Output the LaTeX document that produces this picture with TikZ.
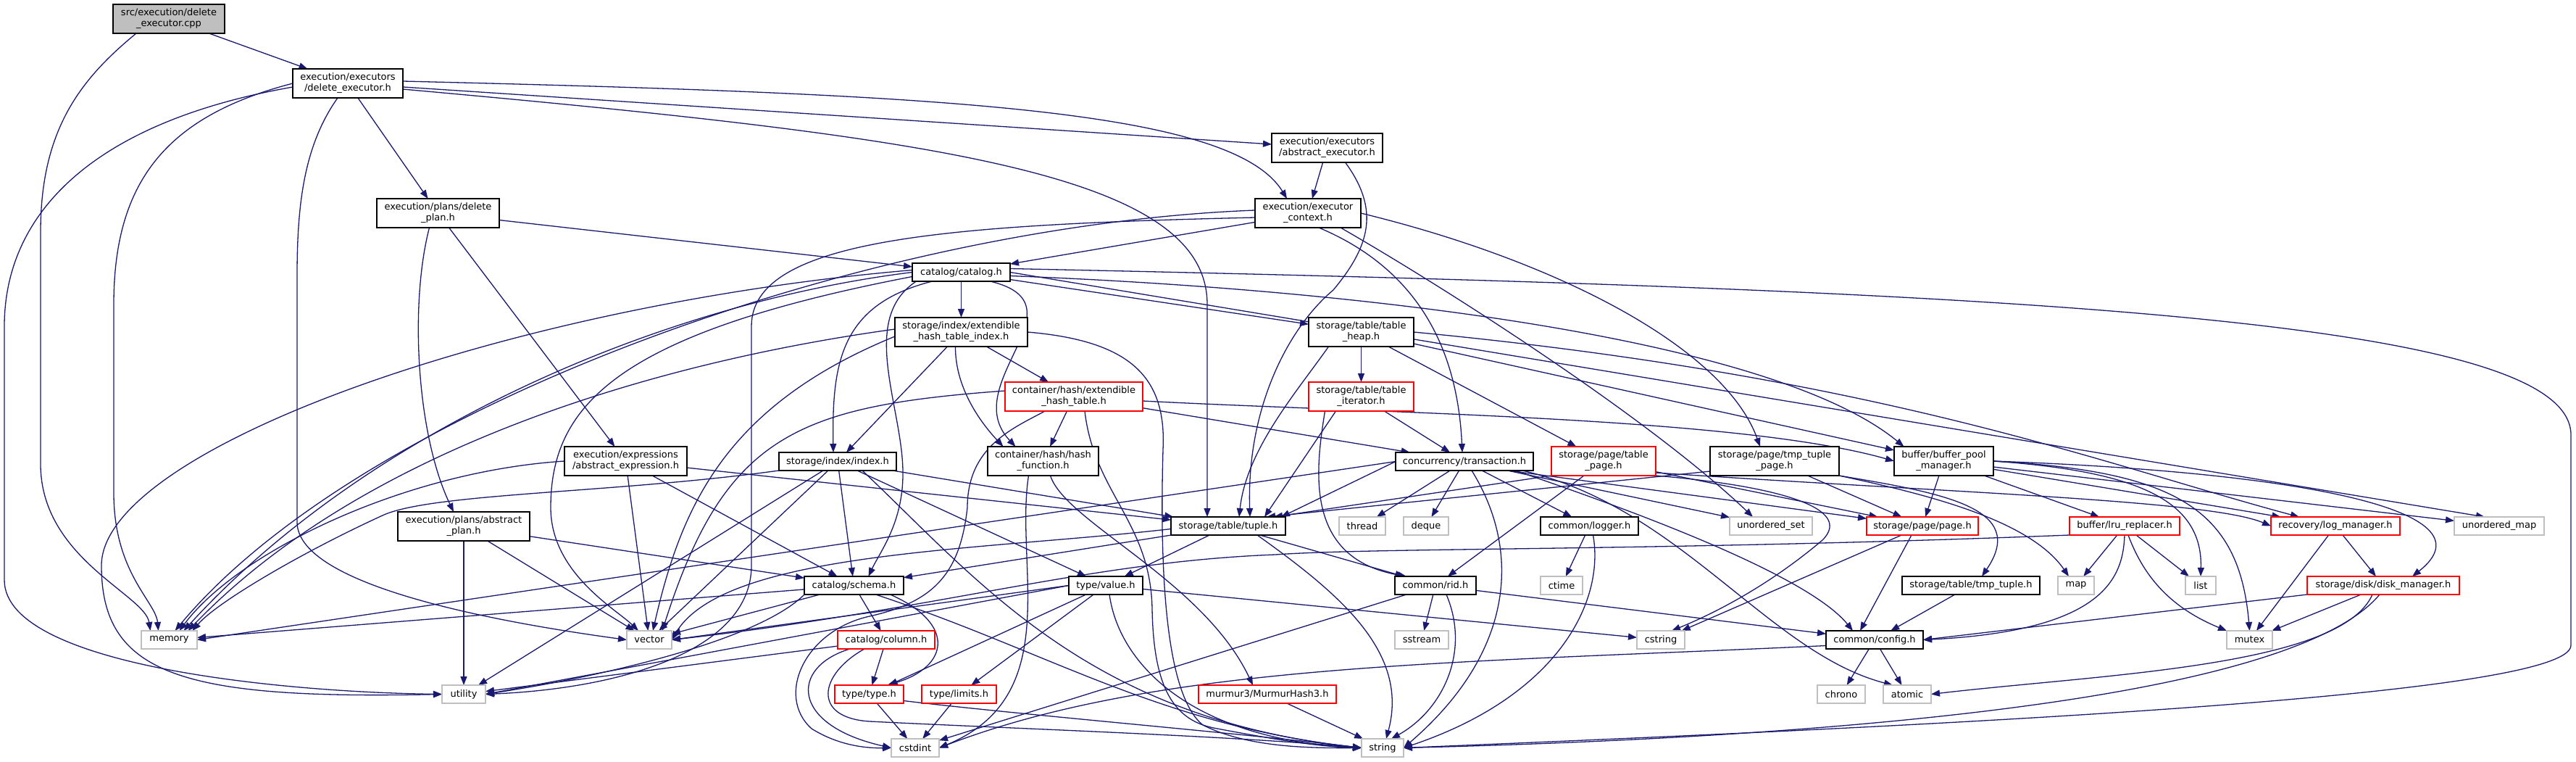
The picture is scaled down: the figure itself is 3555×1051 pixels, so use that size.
\documentclass[tikz,border=0pt]{standalone}
\usepackage{fontspec}
\setmainfont{DejaVu Sans}
\usetikzlibrary{arrows.meta}
\definecolor{ecol}{HTML}{191970}
\definecolor{grey75}{HTML}{BFBFBF}
\newcommand\nodefont{\fontsize{13pt}{15pt}\selectfont}
\newcommand\mknode[7]{\node[#1,minimum width={#4-#2},minimum height={#5-#3}] (#6) at ({(#2+#4)/2},{(#3+#5)/2}) {#7};}
\pgfdeclarelayer{bg}
\pgfsetlayers{bg,main}
\begin{document}
\begin{tikzpicture}[x=1pt,y=-1pt,
  conn/.style={draw=ecol, line width=1.3pt, -{Triangle[length=12pt,width=9pt]}},
  hbox/.style={draw=black, fill=white, line width=1.3pt, inner sep=0pt, outer sep=0pt, align=center, font=\nodefont},
  redbox/.style={hbox, draw=red},
  sysbox/.style={hbox, draw=grey75},
  srcbox/.style={hbox, fill=grey75}]
\path[use as bounding box] (0,0) rectangle (3555,1051);
% nodes
\mknode{srcbox}{156}{6}{310}{46}{src}{src/execution/delete\\\_executor.cpp}
\mknode{hbox}{404}{95}{556}{135}{dexec}{execution/executors\\/delete\_executor.h}
\mknode{hbox}{520}{274}{689}{314}{dplan}{execution/plans/delete\\\_plan.h}
\mknode{hbox}{1755}{184}{1908}{224}{aexec}{execution/executors\\/abstract\_executor.h}
\mknode{hbox}{1732}{274}{1878}{314}{ectx}{execution/executor\\\_context.h}
\mknode{hbox}{1259}{363}{1394}{388}{catalog}{catalog/catalog.h}
\mknode{hbox}{1235}{438}{1418}{478}{ehti}{storage/index/extendible\\\_hash\_table\_index.h}
\mknode{redbox}{1387}{527}{1577}{567}{eht}{container/hash/extendible\\\_hash\_table.h}
\mknode{hbox}{1075}{624}{1237}{649}{index}{storage/index/index.h}
\mknode{hbox}{1363}{616}{1516}{656}{hashfn}{container/hash/hash\\\_function.h}
\mknode{hbox}{779}{616}{948}{656}{aexpr}{execution/expressions\\/abstract\_expression.h}
\mknode{hbox}{1806}{438}{1951}{478}{theap}{storage/table/table\\\_heap.h}
\mknode{redbox}{1806}{527}{1951}{567}{titer}{storage/table/table\\\_iterator.h}
\mknode{hbox}{1926}{624}{2116}{649}{txn}{concurrency/transaction.h}
\mknode{redbox}{2141}{616}{2285}{656}{tpage}{storage/page/table\\\_page.h}
\mknode{hbox}{2360}{616}{2538}{656}{ttpage}{storage/page/tmp\_tuple\\\_page.h}
\mknode{hbox}{2614}{616}{2751}{656}{bpm}{buffer/buffer\_pool\\\_manager.h}
\mknode{hbox}{549}{706}{731}{746}{aplan}{execution/plans/abstract\\\_plan.h}
\mknode{sysbox}{195}{870}{272}{895}{memory}{memory}
\mknode{sysbox}{610}{945}{670}{970}{utility}{utility}
\mknode{sysbox}{865}{870}{927}{895}{vector}{vector}
\mknode{hbox}{1616}{713}{1774}{738}{tuple}{storage/table/tuple.h}
\mknode{hbox}{1110}{795}{1247}{820}{schema}{catalog/schema.h}
\mknode{hbox}{1475}{795}{1577}{820}{value}{type/value.h}
\mknode{redbox}{1156}{870}{1290}{895}{column}{catalog/column.h}
\mknode{redbox}{1152}{945}{1247}{970}{type}{type/type.h}
\mknode{redbox}{1272}{945}{1375}{970}{limits}{type/limits.h}
\mknode{redbox}{1654}{945}{1844}{970}{murmur}{murmur3/MurmurHash3.h}
\mknode{sysbox}{1230}{1019}{1296}{1044}{cstdint}{cstdint}
\mknode{sysbox}{1848}{713}{1912}{738}{thread}{thread}
\mknode{sysbox}{1937}{713}{1999}{738}{deque}{deque}
\mknode{hbox}{2126}{713}{2261}{738}{logger}{common/logger.h}
\mknode{sysbox}{2387}{713}{2501}{738}{uset}{unordered\_set}
\mknode{redbox}{2576}{713}{2730}{738}{page}{storage/page/page.h}
\mknode{hbox}{1925}{795}{2037}{820}{rid}{common/rid.h}
\mknode{sysbox}{2126}{795}{2184}{820}{ctime}{ctime}
\mknode{sysbox}{1925}{870}{1999}{895}{sstream}{sstream}
\mknode{sysbox}{2259}{870}{2325}{895}{cstring}{cstring}
\mknode{hbox}{2520}{870}{2654}{895}{config}{common/config.h}
\mknode{hbox}{2625}{795}{2815}{820}{tmptuple}{storage/table/tmp\_tuple.h}
\mknode{sysbox}{2508}{945}{2574}{970}{chrono}{chrono}
\mknode{sysbox}{2599}{945}{2665}{970}{atomic}{atomic}
\mknode{sysbox}{1879}{1019}{1937}{1044}{string}{string}
\mknode{redbox}{2856}{713}{3008}{738}{lru}{buffer/lru\_replacer.h}
\mknode{redbox}{3134}{713}{3312}{738}{logmgr}{recovery/log\_manager.h}
\mknode{sysbox}{3387}{713}{3511}{738}{umap}{unordered\_map}
\mknode{sysbox}{2840}{795}{2890}{820}{map}{map}
\mknode{sysbox}{3016}{795}{3058}{820}{list}{list}
\mknode{redbox}{3184}{795}{3394}{820}{dmgr}{storage/disk/disk\_manager.h}
\mknode{sysbox}{3073}{870}{3136}{895}{mutex}{mutex}
\begin{pgfonlayer}{bg}
\fill[white] (0,0) rectangle (3555,1051);
% src
\draw[conn] (src) -- (dexec);
\draw[conn] ([xshift=-45pt]src.south) .. controls (110,110) and (56,180) .. (56,320) -- (56,640) .. controls (56,770) and (200,820) .. ([xshift=-26pt]memory.north);
% dexec
\draw[conn] (dexec.west) .. controls (230,160) and (157,250) .. (157,420) -- (157,680) .. controls (157,790) and (215,830) .. ([xshift=-15pt]memory.north);
\draw[conn] ([yshift=-5pt]dexec.west) .. controls (120,170) and (6,300) .. (6,450) -- (6,800) .. controls (6,920) and (400,955) .. (utility.west);
\draw[conn] ([xshift=-14pt]dexec.south) .. controls (420,200) and (410,280) .. (410,380) -- (410,720) .. controls (410,810) and (700,860) .. (vector.west);
\draw[conn] (dexec) -- (dplan);
\draw[conn] (dexec) -- (aexec);
\draw[conn] ([yshift=3pt]dexec.east) .. controls (1300,130) and (1700,150) .. ([xshift=-29pt]ectx.north);
\draw[conn] ([yshift=-8pt]dexec.east) .. controls (1300,190) and (1666,240) .. (1666,420) -- ([xshift=-29pt]tuple.north);
% aexec
\draw[conn] (aexec) -- (ectx);
\draw[conn] ([xshift=25pt]aexec.south) .. controls (1905,290) and (1890,340) .. (1840,400) .. controls (1780,450) and (1720,560) .. ([xshift=30pt]tuple.north);
% ectx
\draw[conn] (ectx) -- (catalog);
\draw[conn] ([xshift=15pt]ectx.south) .. controls (1930,360) and (2010,450) .. ([xshift=-3pt]txn.north);
\draw[conn] (ectx.east) .. controls (2150,360) and (2380,480) .. ([xshift=-20pt]ttpage.north);
\draw[conn] ([xshift=45pt]ectx.south) .. controls (2000,400) and (2280,580) .. ([xshift=-25pt]uset.north);
\draw[conn] ([yshift=4pt]ectx.west) .. controls (1200,310) and (500,560) .. ([xshift=8pt]memory.north);
\draw[conn] ([yshift=-6pt]ectx.west) .. controls (1300,310) and (1037,330) .. (1037,450) -- (1037,780) .. controls (1037,900) and (850,950) .. (utility.east);
% dplan
\draw[conn] (dplan) -- (catalog);
\draw[conn] (dplan) -- (aexpr);
\draw[conn] ([xshift=-12pt]dplan.south) .. controls (565,420) and (575,600) .. ([xshift=-14pt]aplan.north);
% aplan
\draw[conn] (aplan) -- (utility);
\draw[conn] (aplan) -- (vector);
\draw[conn] (aplan) -- (schema);
% aexpr
\draw[conn] (aexpr.west) .. controls (560,650) and (330,760) .. ([xshift=14pt]memory.north);
\draw[conn] (aexpr) -- (vector);
\draw[conn] (aexpr) -- (schema);
\draw[conn] (aexpr) -- (tuple);
% catalog
\draw[conn] (catalog) -- (ehti);
\draw[conn] (catalog) -- (theap);
\draw[conn] ([xshift=-40pt]catalog.south) .. controls (1160,420) and (1148,500) .. ([xshift=-6pt]index.north);
\draw[conn] ([xshift=-62pt]catalog.south) .. controls (1185,440) and (1245,560) .. (1246,650) .. controls (1247,720) and (1215,760) .. ([xshift=20pt]schema.north);
\draw[conn] ([xshift=40pt]catalog.south) .. controls (1500,420) and (1320,530) .. ([xshift=-38pt]hashfn.north);
\draw[conn] ([yshift=-5pt]catalog.east) .. controls (1900,400) and (2450,470) .. ([xshift=-55pt]bpm.north);
\draw[conn] (catalog.west) .. controls (900,420) and (500,600) .. ([xshift=20pt]memory.north);
\draw[conn] ([yshift=3pt]catalog.west) .. controls (700,420) and (140,620) .. (140,780) .. controls (140,930) and (250,965) .. (utility.west);
\draw[conn] ([yshift=-6pt]catalog.west) .. controls (850,460) and (760,560) .. (760,700) .. controls (760,790) and (850,840) .. ([xshift=-15pt]vector.north);
\draw[conn] ([yshift=5pt]catalog.east) .. controls (2800,400) and (3548,440) .. (3548,600) -- (3548,890) .. controls (3548,960) and (2700,1000) .. (string.east);
\draw[conn] (catalog.east) -- ([xshift=-20pt]umap.north);
% ehti
\draw[conn] (ehti) -- (eht);
\draw[conn] (ehti) -- (index);
\draw[conn] ([xshift=-8pt]ehti.south) .. controls (1318,540) and (1360,590) .. ([xshift=-55pt]hashfn.north);
\draw[conn] ([yshift=4pt]ehti.west) .. controls (900,500) and (500,620) .. ([xshift=26pt]memory.north);
\draw[conn] ([yshift=-6pt]ehti.west) .. controls (1000,560) and (940,700) .. ([xshift=5pt]vector.north);
\draw[conn] (ehti.east) .. controls (1560,470) and (1610,520) .. (1605,620) .. controls (1600,800) and (1610,960) .. (1660,1000) .. controls (1720,1030) and (1800,1032) .. (string.west);
% eht
\draw[conn] (eht) -- (hashfn);
\draw[conn] (eht) -- (txn);
\draw[conn] ([yshift=-6pt]eht.east) .. controls (1900,570) and (2400,575) .. (bpm.west);
\draw[conn] ([yshift=8pt]eht.west) .. controls (1100,560) and (1000,600) .. ([xshift=18pt]vector.north);
\draw[conn] ([xshift=15pt]eht.south) .. controls (1510,680) and (1588,720) .. (1590,840) .. controls (1592,950) and (1620,995) .. (1680,1005) .. controls (1760,1020) and (1820,1030) .. (string.west);
\draw[conn] ([xshift=-40pt]eht.south) .. controls (1400,590) and (1335,615) .. (1335,700) .. controls (1325,790) and (1290,830) .. (1200,850) .. controls (1110,870) and (1070,960) .. (1120,1005) .. controls (1160,1030) and (1200,1032) .. (cstdint.west);
% index
\draw[conn] (index) -- (schema);
\draw[conn] (index) -- (tuple);
\draw[conn] (index) -- (value);
\draw[conn] (index.south west) .. controls (850,680) and (600,680) .. (530,710) .. controls (420,760) and (300,830) .. ([xshift=32pt]memory.north);
\draw[conn] (index) -- (vector);
\draw[conn] (index) -- (utility);
\draw[conn] ([xshift=34pt]index.south) .. controls (1350,800) and (1500,990) .. (string.west);
% tuple
\draw[conn] (tuple) -- (schema);
\draw[conn] (tuple) -- (rid);
\draw[conn] (tuple) -- (value);
\draw[conn] ([xshift=40pt]tuple.south) .. controls (1850,820) and (1945,900) .. ([xshift=5pt]string.north);
\draw[conn] ([yshift=-4pt]tuple.west) .. controls (1350,760) and (1000,760) .. (vector.east);
% schema
\draw[conn] (schema) -- (column);
\draw[conn] ([xshift=50pt]schema.south) .. controls (1320,860) and (1310,920) .. ([xshift=25pt]type.north);
\draw[conn] (schema) -- (memory);
\draw[conn] ([xshift=30pt]schema.south) .. controls (1450,900) and (1600,1000) .. (string.west);
\draw[conn] (schema.south west) .. controls (1050,880) and (850,930) .. (utility.east);
\draw[conn] (schema) -- (vector);
% column
\draw[conn] (column) -- (type);
\draw[conn] ([xshift=-50pt]column.south) .. controls (1090,920) and (1090,1000) .. (cstdint.west);
\draw[conn] (column) -- (utility);
\draw[conn] ([xshift=-30pt]column.south) .. controls (1130,930) and (1120,990) .. (1200,995) .. controls (1400,1005) and (1700,1015) .. (string.west);
% type, limits
\draw[conn] (type) -- (cstdint);
\draw[conn] ([yshift=-9pt]type.east) .. controls (1400,985) and (1700,1010) .. (string.west);
\draw[conn] (limits) -- (cstdint);
% value
\draw[conn] (value) -- (type);
\draw[conn] (value) -- (limits);
\draw[conn] ([xshift=5pt]value.south) .. controls (1545,920) and (1650,1020) .. (string.west);
\draw[conn] (value) -- (cstring);
\draw[conn] (value.west) -- (vector.east);
\draw[conn] (value.west) -- (utility.east);
% rid
\draw[conn] (rid) -- (sstream);
\draw[conn] ([xshift=15pt]rid.south) .. controls (2030,900) and (1990,980) .. ([xshift=12pt]string.north);
\draw[conn] (rid) -- (config);
\draw[conn] (rid) -- (cstdint);
% config
\draw[conn] (config) -- (chrono);
\draw[conn] (config) -- (atomic);
\draw[conn] ([yshift=-8pt]config.west) .. controls (2000,915) and (1600,915) .. (cstdint.east);
% logger
\draw[conn] (logger) -- (ctime);
\draw[conn] ([xshift=5pt]logger.south) .. controls (2215,830) and (2150,960) .. (string.east);
% txn
\draw[conn] (txn.west) -- ([xshift=-6pt]tuple.north east);
\draw[conn] (txn) -- (thread);
\draw[conn] (txn) -- (deque);
\draw[conn] ([xshift=10pt]txn.south) .. controls (2100,760) and (2090,900) .. (string.east);
\draw[conn] (txn) -- (logger);
\draw[conn] (txn) -- (uset);
\draw[conn] ([xshift=60pt]txn.south) -- (page);
\draw[conn] ([xshift=70pt]txn.south) .. controls (2300,720) and (2500,800) .. ([xshift=-30pt]config.north);
\draw[conn] ([xshift=80pt]txn.south) .. controls (2320,700) and (2440,900) .. ([xshift=-20pt]atomic.north);
\draw[conn] (txn.west) -- (memory.east);
% theap
\draw[conn] (theap) -- (titer);
\draw[conn] ([xshift=-45pt]theap.south) .. controls (1790,540) and (1720,620) .. ([xshift=15pt]tuple.north);
\draw[conn] (theap) -- (tpage);
\draw[conn] (theap) -- (bpm);
\draw[conn] (theap.east) .. controls (2600,520) and (2900,640) .. ([xshift=-50pt]logmgr.north);
% titer
\draw[conn] (titer) -- (txn);
\draw[conn] ([xshift=-50pt]titer.south) .. controls (1815,650) and (1800,770) .. ([xshift=-40pt]rid.north);
\draw[conn] ([xshift=-35pt]titer.south) -- ([xshift=50pt]tuple.north);
% tpage
\draw[conn] (tpage.south west) -- ([xshift=-16pt]tuple.north east);
\draw[conn] (tpage) -- (rid);
\draw[conn] (tpage) -- (page);
\draw[conn] ([yshift=-16pt]tpage.east) .. controls (2700,680) and (3050,690) .. (logmgr.west);
\draw[conn] (tpage.south east) .. controls (2450,670) and (2560,700) .. (2515,745) .. controls (2450,800) and (2380,840) .. ([xshift=15pt]cstring.north);
% ttpage
\draw[conn] (ttpage) -- (page);
\draw[conn] (ttpage.south east) .. controls (2680,680) and (2800,700) .. ([xshift=15pt]tmptuple.north);
\draw[conn] ([yshift=-14pt]ttpage.west) -- ([xshift=-26pt]tuple.north east);
\draw[conn] (ttpage.south east) .. controls (2650,680) and (2800,715) .. ([xshift=-10pt]map.north);
% tmptuple, page
\draw[conn] (tmptuple) -- (config);
\draw[conn] (page) -- (cstring);
\draw[conn] ([xshift=-15pt]page.south) -- ([xshift=-20pt]config.north);
% bpm
\draw[conn] (bpm) -- (page);
\draw[conn] (bpm) -- (lru);
\draw[conn] (bpm) -- (logmgr);
\draw[conn] (bpm.east) .. controls (3150,650) and (3450,700) .. ([xshift=40pt]dmgr.north);
\draw[conn] (bpm.east) .. controls (2950,650) and (3040,690) .. (list.north);
\draw[conn] (bpm.east) .. controls (3000,650) and (3090,700) .. (mutex.north);
\draw[conn] (bpm) -- (umap);
% lru
\draw[conn] (lru) -- (map);
\draw[conn] (lru) -- (list);
\draw[conn] ([xshift=5pt]lru.south) .. controls (2960,800) and (3000,840) .. (mutex.north west);
\draw[conn] (lru.south) .. controls (2930,800) and (2900,870) .. (config.east);
\draw[conn] (lru.south west) .. controls (2300,760) and (1900,755) .. (1760,765) .. controls (1500,775) and (1300,840) .. (vector.east);
% logmgr
\draw[conn] (logmgr) -- (mutex);
\draw[conn] (logmgr) -- (dmgr);
% dmgr
\draw[conn] (dmgr.south west) -- (config.east);
\draw[conn] (dmgr) -- (mutex);
\draw[conn] ([xshift=-15pt]dmgr.south) .. controls (3230,920) and (2900,930) .. (atomic.east);
\draw[conn] ([xshift=-5pt]dmgr.south) .. controls (3150,980) and (2400,1020) .. (string.east);
% hashfn
\draw[conn] ([xshift=10pt]hashfn.south) .. controls (1470,720) and (1660,800) .. ([xshift=-20pt]murmur.north);
\draw[conn] ([xshift=-20pt]hashfn.south) .. controls (1400,780) and (1470,960) .. (cstdint.east);
% murmur
\draw[conn] (murmur) -- (string);
\end{pgfonlayer}
\end{tikzpicture}
\end{document}
